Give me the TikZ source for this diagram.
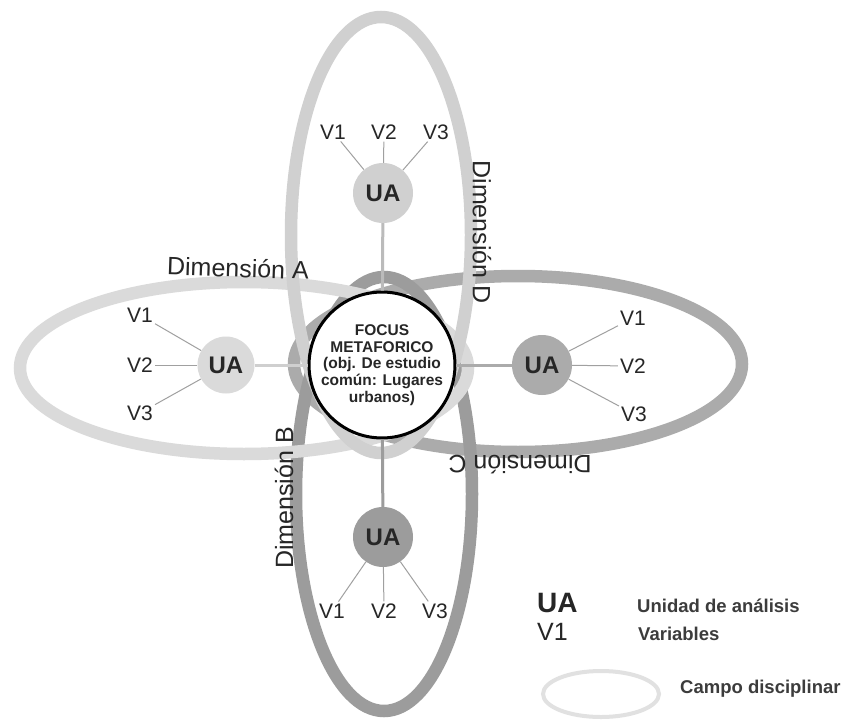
\documentclass[tikz,border=0pt]{standalone}
\usepackage{fontspec}
\setmainfont{Liberation Sans}
\definecolor{cA}{HTML}{DADADA}
\definecolor{cD}{HTML}{D0D0D0}
\definecolor{cC}{HTML}{ABABAB}
\definecolor{cB}{HTML}{9C9C9C}
\definecolor{txt}{HTML}{262626}
\definecolor{thin}{HTML}{A0A0A0}
\begin{document}
\begin{tikzpicture}[x=1pt,y=-1pt,
  band/.style={line width=12.5pt},
  ua/.style={circle, minimum size=60pt, inner sep=0pt, font=\fontsize{24}{28}\selectfont\bfseries, text=txt},
  vlab/.style={inner sep=2pt, font=\fontsize{21}{24}\selectfont, text=txt},
  vline/.style={draw=thin, line width=1pt},
  conn/.style={line width=3pt},
  dimlab/.style={inner sep=0pt, font=\fontsize{25}{28}\selectfont, text=txt},
  legtext/.style={inner sep=0pt, anchor=base west, font=\fontsize{18.5}{21}\selectfont\bfseries, text=txt!90},
  ]
\useasboundingbox (0,0) rectangle (848,722);
\fill[white] (0,0) rectangle (848,722);

% disciplinary fields
\draw[band, cC] (518,364) ellipse [x radius=224, y radius=88];
\draw[band, cB] (384,494) ellipse [x radius=88, y radius=217];
\draw[band, cA] (244,368) ellipse [x radius=224, y radius=86];
\draw[band, cD] (381,235) ellipse [x radius=90, y radius=218];

% nodes
\node[ua, fill=cD] (uaT) at (383,193) {UA};
\node[ua, fill=cA, minimum size=57pt] (uaL) at (226,365) {UA};
\node[ua, fill=cC] (uaR) at (542,365) {UA};
\node[ua, fill=cB] (uaB) at (383,537) {UA};

\node[circle, draw=black, line width=3pt, fill=white, minimum size=118pt, inner sep=0pt,
      align=center, text=txt, font=\fontsize{15.5}{16.7}\selectfont\bfseries] (focus) at (382,365)
  {FOCUS\\METAFORICO\\(obj. De estudio\\común: Lugares\\urbanos)};

% connectors focus - UA
\draw[conn, cD!90!black] (uaT) -- (focus);
\draw[conn, cA!95!black] (uaL) -- (focus);
\draw[conn, cC] (uaR) -- (focus);
\draw[conn, cB] (uaB) -- (focus);

% variables
\node[vlab] (t1) at (333,132) {V1};
\node[vlab] (t2) at (384,132) {V2};
\node[vlab] (t3) at (436,132) {V3};
\node[vlab] (l1) at (140,315) {V1};
\node[vlab] (l2) at (140,365) {V2};
\node[vlab] (l3) at (140,413) {V3};
\node[vlab] (r1) at (633,318) {V1};
\node[vlab] (r2) at (633,366) {V2};
\node[vlab] (r3) at (634,414) {V3};
\node[vlab] (b1) at (332,611) {V1};
\node[vlab] (b2) at (384,611) {V2};
\node[vlab] (b3) at (435,611) {V3};

\foreach \u/\v in {uaT/t1,uaT/t2,uaT/t3,uaL/l1,uaL/l2,uaL/l3,uaR/r1,uaR/r2,uaR/r3,uaB/b1,uaB/b2,uaB/b3}
  \draw[vline] (\u) -- (\v);

% dimension labels
\node[dimlab, rotate=-2] (dA) at (238,268) {Dimensión A};
\node[dimlab, rotate=-90] (dD) at (482,232) {Dimensión D};
\node[dimlab, rotate=90] (dB) at (284,498) {Dimensión B};
\node[dimlab, rotate=180] (dC) at (520,465) {Dimensión C};

% legend
\node[inner sep=0pt, anchor=base west, font=\fontsize{28}{32}\selectfont\bfseries, text=txt] (lgUA) at (537,612) {UA};
\node[inner sep=0pt, anchor=base west, font=\fontsize{25}{28}\selectfont, text=txt] (lgV) at (537,640) {V1};
\node[legtext] (lgUAt) at (637,612) {Unidad de análisis};
\node[legtext] (lgVt) at (638,640) {Variables};
\draw[cA!80, line width=4pt] (601,694) ellipse [x radius=58, y radius=23];
\node[legtext] (lgCt) at (680,693) {Campo disciplinar};
\end{tikzpicture}
\end{document}
